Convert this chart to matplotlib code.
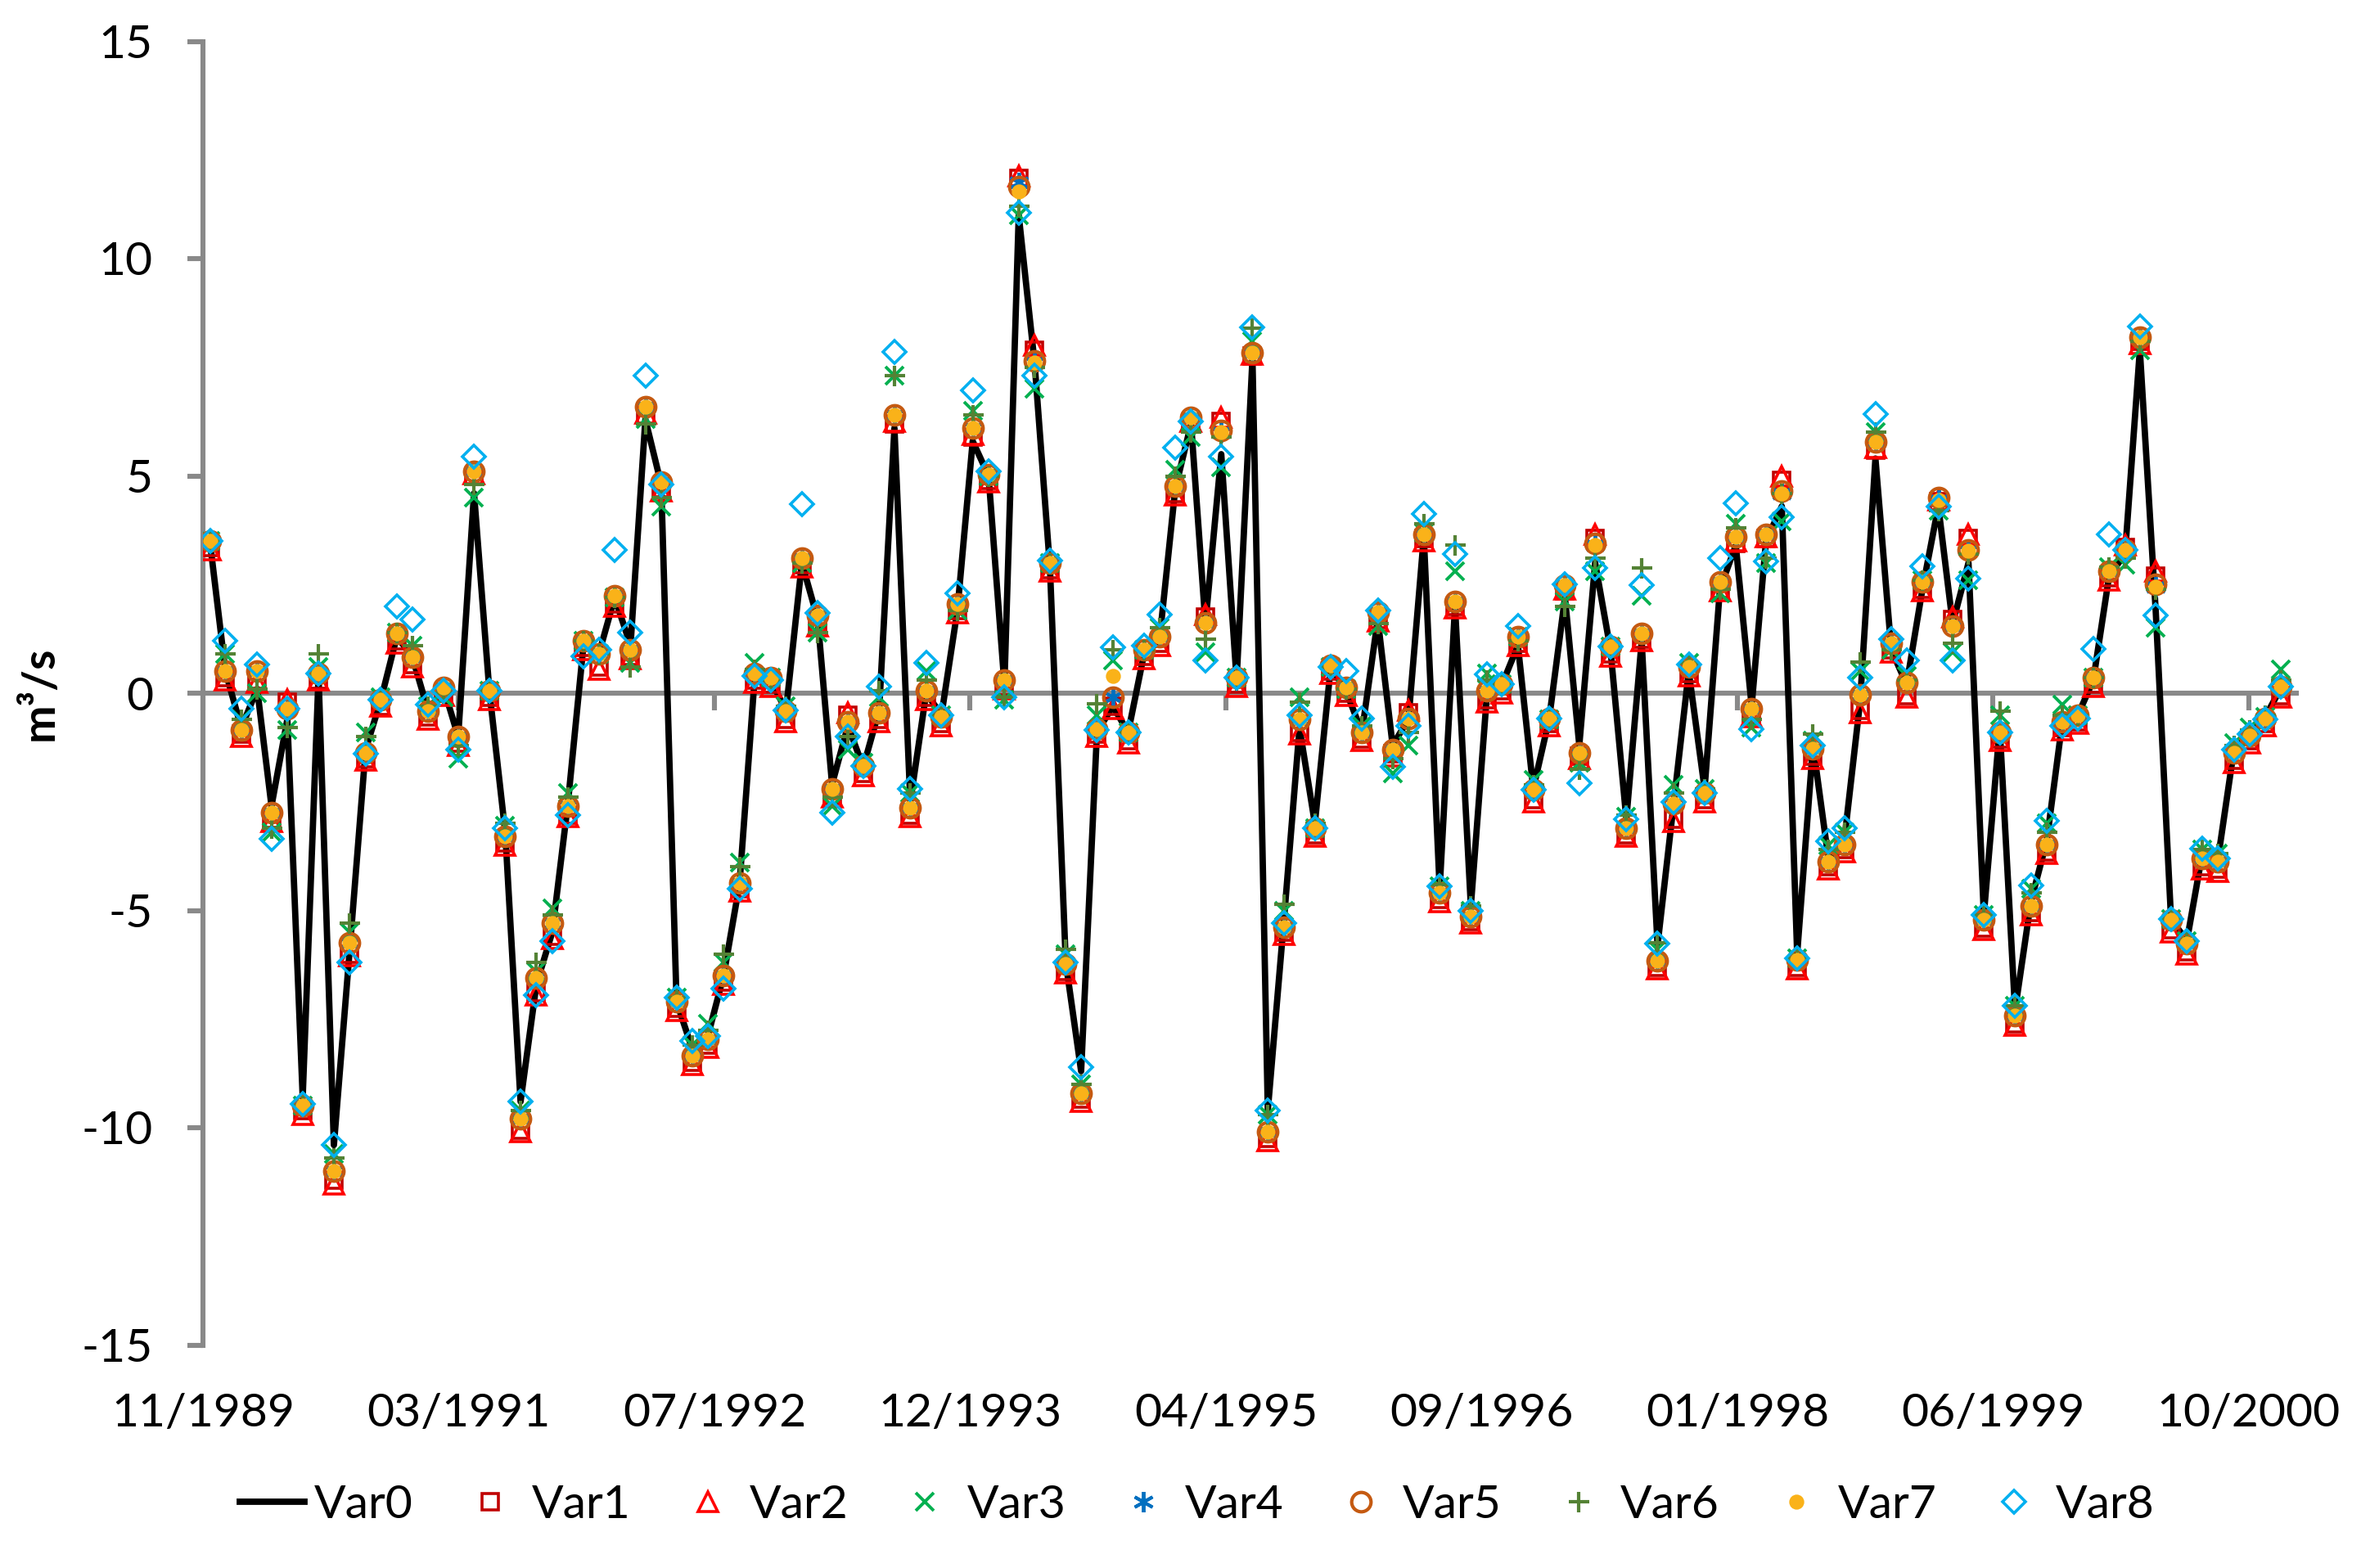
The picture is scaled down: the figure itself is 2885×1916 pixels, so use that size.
import numpy as np
import pandas as pd
import matplotlib
matplotlib.use("Agg")
import matplotlib.pyplot as plt

plt.rcParams['font.family'] = ['Lato', 'DejaVu Sans']
plt.rcParams['axes.unicode_minus'] = False

# ---------------- data ----------------
first_month = '1989-11-01'
n_months = 134
tick_labels = ["11/1989", "03/1991", "07/1992", "12/1993", "04/1995",
               "09/1996", "01/1998", "06/1999", "10/2000"]
series_names = ["Var0", "Var1", "Var2", "Var3", "Var4", "Var5", "Var6", "Var7", "Var8"]

var0 = [3.45, 0.5, -0.8, 0.1, -2.6, -0.6, -9.3, 0.4, -10.4, -5.9, -1.3, -0.15,
        1.3, 0.85, -0.4, 0.1, -1.0, 4.6, 0.05, -3.2, -9.4, -6.7, -5.5, -2.6,
        1.1, 0.9, 2.2, 1.1, 6.3, 4.8, -7.1, -8.2, -7.9, -6.5, -4.4, 0.4,
        0.3, -0.4, 3.0, 1.7, -2.1, -0.75, -1.7, -0.4, 6.1, -2.5, 0.0, -0.5,
        1.9, 5.8, 5.0, 0.2, 11.0, 7.6, 2.9, -6.2, -8.7, -0.9, -0.3, -0.9,
        0.9, 1.2, 4.7, 6.2, 1.6, 5.5, 0.3, 7.7, -9.6, -5.3, -0.8, -3.0,
        0.6, 0.05, -0.9, 1.7, -1.2, -0.6, 3.6, -4.5, 2.0, -4.9, -0.1, 0.2,
        1.1, -2.2, -0.6, 2.2, -1.2, 3.0, 1.0, -2.9, 1.2, -5.8, -2.6, 0.5,
        -2.2, 2.4, 3.4, -0.3, 3.5, 4.3, -6.0, -1.2, -3.8, -3.4, -0.2, 5.4,
        1.0, 0.2, 2.4, 4.3, 1.6, 3.0, -5.1, -0.8, -7.3, -4.8, -3.4, -0.7,
        -0.5, 0.3, 2.7, 3.2, 7.9, 1.9, -5.2, -5.7, -3.7, -3.8, -1.3, -0.95,
        -0.55, 0.1]

var1 = [3.35, 0.35, -0.95, 0.3, -2.9, -0.2, -9.6, 0.3, -11.2, -6.0, -1.5, -0.3,
        1.2, 0.65, -0.55, 0.0, -1.15, 5.0, -0.1, -3.45, -10.05, -6.9, -5.6, -2.8,
        1.05, 0.6, 2.05, 0.85, 6.4, 4.7, -7.25, -8.5, -8.1, -6.65, -4.5, 0.3,
        0.2, -0.6, 2.95, 1.6, -2.35, -0.5, -1.85, -0.6, 6.2, -2.8, -0.1, -0.7,
        1.9, 5.9, 4.9, 0.15, 11.85, 7.9, 2.85, -6.4, -9.35, -0.95, -0.3, -1.1,
        0.85, 1.15, 4.6, 6.2, 1.75, 6.25, 0.2, 7.75, -10.25, -5.5, -0.9, -3.25,
        0.5, 0.0, -1.05, 1.7, -1.4, -0.45, 3.55, -4.75, 2.0, -5.25, -0.15, 0.05,
        1.15, -2.45, -0.7, 2.35, -1.45, 3.55, 0.9, -3.25, 1.25, -6.3, -2.9, 0.45,
        -2.45, 2.4, 3.45, -0.5, 3.55, 4.9, -6.3, -1.45, -4.0, -3.6, -0.4, 5.6,
        1.0, -0.05, 2.4, 4.4, 1.7, 3.55, -5.4, -1.05, -7.6, -5.05, -3.65, -0.8,
        -0.65, 0.2, 2.65, 3.35, 8.1, 2.7, -5.45, -5.95, -4.0, -4.05, -1.55, -1.1,
        -0.7, -0.05]

var2 = [3.3, 0.3, -1.0, 0.25, -2.95, -0.15, -9.7, 0.3, -11.3, -6.05, -1.55, -0.3,
        1.15, 0.6, -0.6, -0.05, -1.2, 5.05, -0.15, -3.5, -10.1, -6.95, -5.65, -2.85,
        1.0, 0.55, 2.0, 0.8, 6.45, 4.65, -7.3, -8.55, -8.15, -6.7, -4.55, 0.25,
        0.15, -0.65, 2.9, 1.55, -2.4, -0.45, -1.9, -0.65, 6.25, -2.85, -0.15, -0.75,
        1.85, 5.95, 4.85, 0.1, 11.9, 8.0, 2.8, -6.45, -9.4, -1.0, -0.35, -1.15,
        0.8, 1.1, 4.55, 6.25, 1.8, 6.35, 0.15, 7.8, -10.3, -5.55, -0.95, -3.3,
        0.45, -0.05, -1.1, 1.65, -1.45, -0.4, 3.5, -4.8, 1.95, -5.3, -0.2, 0.0,
        1.1, -2.5, -0.75, 2.4, -1.5, 3.65, 0.85, -3.3, 1.2, -6.35, -2.95, 0.4,
        -2.5, 2.35, 3.5, -0.55, 3.6, 5.0, -6.35, -1.5, -4.05, -3.65, -0.45, 5.65,
        0.95, -0.1, 2.35, 4.45, 1.75, 3.65, -5.45, -1.1, -7.65, -5.1, -3.7, -0.85,
        -0.7, 0.15, 2.6, 3.4, 8.05, 2.8, -5.5, -6.0, -4.05, -4.1, -1.6, -1.15,
        -0.75, -0.1]

var3 = [3.5, 0.9, -0.6, 0.0, -3.2, -0.85, -9.5, 0.6, -10.6, -5.5, -0.9, -0.1,
        1.4, 1.1, -0.3, -0.1, -1.5, 4.5, 0.05, -3.05, -9.6, -6.4, -4.95, -2.3,
        1.2, 0.9, 2.2, 0.7, 6.3, 4.3, -7.0, -8.1, -7.6, -6.2, -3.9, 0.7,
        0.35, -0.3, 3.0, 1.4, -2.6, -1.3, -1.6, -0.1, 7.3, -2.3, 0.5, -0.5,
        1.9, 6.5, 5.0, -0.15, 11.0, 7.0, 3.0, -6.0, -9.0, -0.5, 0.75, -0.9,
        1.0, 1.5, 5.15, 5.9, 0.95, 5.2, 0.36, 8.1, -9.7, -5.0, -0.1, -3.1,
        0.6, 0.1, -0.75, 1.55, -1.85, -1.2, 3.7, -4.45, 2.8, -5.0, 0.45, 0.2,
        1.3, -2.0, -0.6, 2.1, -1.6, 2.8, 1.07, -2.85, 2.25, -5.9, -2.1, 0.7,
        -2.2, 2.3, 3.9, -0.8, 3.0, 3.95, -6.1, -1.1, -3.5, -3.2, 0.5, 6.0,
        1.0, 0.4, 2.6, 4.2, 0.95, 2.6, -5.1, -0.5, -7.2, -4.5, -3.0, -0.27,
        -0.5, 0.36, 2.9, 2.95, 7.9, 1.5, -5.2, -5.7, -3.6, -3.7, -1.15, -0.8,
        -0.55, 0.55]

var4 = [3.5, 0.5, -0.85, 0.5, -2.75, -0.35, -9.5, 0.45, -11.0, -5.75, -1.37, -0.16,
        1.38, 0.83, -0.42, 0.13, -1.0, 5.1, 0.05, -3.3, -9.8, -6.56, -5.3, -2.6,
        1.2, 0.9, 2.25, 1.0, 6.6, 4.85, -7.1, -8.35, -7.97, -6.5, -4.36, 0.45,
        0.35, -0.42, 3.1, 1.78, -2.2, -0.65, -1.68, -0.45, 6.4, -2.63, 0.05, -0.55,
        2.05, 6.1, 5.03, 0.3, 11.75, 7.6, 3.0, -6.24, -9.2, -0.82, -0.1, -0.9,
        1.0, 1.3, 4.76, 6.35, 1.62, 6.0, 0.36, 7.83, -10.1, -5.38, -0.6, -3.1,
        0.64, 0.13, -0.9, 1.86, -1.3, -0.58, 3.66, -4.59, 2.1, -5.14, 0.05, 0.2,
        1.3, -2.23, -0.58, 2.48, -1.37, 3.4, 1.07, -3.1, 1.38, -6.16, -2.55, 0.6,
        -2.3, 2.56, 3.6, -0.35, 3.66, 4.6, -6.13, -1.29, -3.88, -3.49, -0.03, 5.79,
        1.15, 0.25, 2.56, 4.45, 1.54, 3.27, -5.22, -0.9, -7.42, -4.9, -3.49, -0.66,
        -0.5, 0.36, 2.8, 3.3, 8.2, 2.45, -5.22, -5.77, -3.8, -3.88, -1.37, -0.97,
        -0.58, 0.15]

var5 = [3.5, 0.5, -0.85, 0.5, -2.75, -0.35, -9.5, 0.45, -11.0, -5.75, -1.37, -0.16,
        1.38, 0.83, -0.42, 0.13, -1.0, 5.1, 0.05, -3.3, -9.8, -6.56, -5.3, -2.6,
        1.2, 0.9, 2.25, 1.0, 6.6, 4.85, -7.1, -8.35, -7.97, -6.5, -4.36, 0.45,
        0.35, -0.42, 3.1, 1.78, -2.2, -0.65, -1.68, -0.45, 6.4, -2.63, 0.05, -0.55,
        2.05, 6.1, 5.03, 0.3, 11.65, 7.65, 3.0, -6.24, -9.2, -0.82, -0.1, -0.9,
        1.0, 1.3, 4.76, 6.35, 1.62, 6.05, 0.36, 7.83, -10.1, -5.38, -0.6, -3.1,
        0.64, 0.13, -0.9, 1.86, -1.3, -0.58, 3.66, -4.59, 2.1, -5.14, 0.05, 0.2,
        1.3, -2.23, -0.58, 2.48, -1.37, 3.45, 1.07, -3.1, 1.38, -6.16, -2.55, 0.6,
        -2.3, 2.56, 3.6, -0.35, 3.66, 4.65, -6.13, -1.29, -3.88, -3.49, -0.03, 5.79,
        1.15, 0.25, 2.56, 4.5, 1.54, 3.3, -5.22, -0.9, -7.42, -4.9, -3.49, -0.66,
        -0.5, 0.36, 2.8, 3.3, 8.2, 2.5, -5.22, -5.77, -3.8, -3.88, -1.37, -0.97,
        -0.58, 0.15]

var6 = [3.5, 0.9, -0.6, 0.1, -3.1, -0.8, -9.5, 0.9, -10.7, -5.3, -1.0, -0.1,
        1.4, 1.1, -0.3, 0.0, -1.2, 4.8, 0.05, -3.0, -9.6, -6.2, -5.1, -2.4,
        1.2, 0.9, 2.2, 0.6, 6.2, 4.5, -7.0, -8.1, -7.75, -6.0, -4.0, 0.55,
        0.3, -0.3, 3.0, 1.4, -2.4, -1.0, -1.6, 0.05, 7.3, -2.3, 0.3, -0.5,
        1.9, 6.4, 5.0, -0.1, 11.2, 7.5, 3.0, -5.9, -9.0, -0.25, 1.0, -0.9,
        1.0, 1.5, 5.0, 6.0, 1.25, 5.9, 0.3, 8.4, -9.7, -4.85, -0.2, -3.0,
        0.6, 0.1, -0.75, 1.6, -1.5, -0.9, 3.9, -4.4, 3.4, -4.9, 0.3, 0.2,
        1.2, -2.1, -0.6, 2.0, -1.76, 3.1, 1.07, -2.8, 2.88, -5.75, -2.3, 0.7,
        -2.2, 2.4, 3.8, -0.6, 3.1, 4.6, -6.1, -0.94, -3.6, -3.2, 0.72, 6.0,
        1.0, 0.3, 2.6, 4.2, 1.15, 3.2, -5.1, -0.42, -7.2, -4.6, -3.2, -0.5,
        -0.5, 0.36, 2.9, 3.1, 8.1, 2.4, -5.2, -5.7, -3.6, -3.7, -1.2, -0.85,
        -0.5, 0.3]

var7 = [3.5, 0.5, -0.85, 0.5, -2.75, -0.35, -9.5, 0.45, -11.0, -5.75, -1.37, -0.16,
        1.38, 0.83, -0.42, 0.13, -1.0, 5.1, 0.05, -3.3, -9.8, -6.56, -5.3, -2.6,
        1.2, 0.9, 2.25, 1.0, 6.6, 4.85, -7.1, -8.35, -7.97, -6.5, -4.36, 0.45,
        0.35, -0.42, 3.1, 1.78, -2.2, -0.65, -1.68, -0.45, 6.4, -2.63, 0.05, -0.55,
        2.05, 6.1, 5.03, 0.3, 11.55, 7.6, 3.0, -6.24, -9.2, -0.82, 0.4, -0.9,
        1.0, 1.3, 4.76, 6.35, 1.62, 6.0, 0.36, 7.83, -10.1, -5.38, -0.6, -3.1,
        0.64, 0.13, -0.9, 1.86, -1.3, -0.58, 3.66, -4.59, 2.1, -5.14, 0.05, 0.2,
        1.3, -2.23, -0.58, 2.48, -1.37, 3.4, 1.07, -3.1, 1.38, -6.16, -2.55, 0.6,
        -2.3, 2.56, 3.6, -0.35, 3.66, 4.6, -6.13, -1.29, -3.88, -3.49, -0.03, 5.79,
        1.15, 0.25, 2.56, 4.45, 1.54, 3.27, -5.22, -0.9, -7.42, -4.9, -3.49, -0.66,
        -0.5, 0.36, 2.8, 3.3, 8.2, 2.45, -5.22, -5.77, -3.8, -3.88, -1.37, -0.97,
        -0.58, 0.15]

var8 = [3.5, 1.2, -0.35, 0.65, -3.35, -0.35, -9.45, 0.45, -10.4, -6.2, -1.4, -0.16,
        2.0, 1.7, -0.27, 0.05, -1.3, 5.45, 0.05, -3.1, -9.4, -6.95, -5.7, -2.8,
        0.85, 1.0, 3.3, 1.4, 7.3, 4.8, -7.0, -8.0, -7.9, -6.8, -4.5, 0.4,
        0.3, -0.4, 4.35, 1.85, -2.75, -1.0, -1.68, 0.15, 7.85, -2.2, 0.7, -0.5,
        2.3, 6.97, 5.1, -0.1, 11.05, 7.3, 3.05, -6.2, -8.6, -0.85, 1.05, -0.9,
        1.1, 1.8, 5.65, 6.25, 0.75, 5.45, 0.36, 8.42, -9.6, -5.3, -0.5, -3.1,
        0.6, 0.5, -0.58, 1.9, -1.7, -0.75, 4.13, -4.45, 3.2, -5.0, 0.44, 0.2,
        1.54, -2.23, -0.58, 2.5, -2.07, 2.88, 1.07, -2.9, 2.48, -5.77, -2.5, 0.65,
        -2.3, 3.1, 4.37, -0.82, 3.03, 4.05, -6.1, -1.2, -3.4, -3.1, 0.36, 6.42,
        1.25, 0.75, 2.92, 4.3, 0.75, 2.64, -5.1, -0.9, -7.2, -4.43, -2.94, -0.75,
        -0.58, 1.02, 3.66, 3.3, 8.43, 1.78, -5.2, -5.7, -3.57, -3.8, -1.3, -0.95,
        -0.6, 0.15]

# ---------------- x positions: monthly values on a day-based axis ----------------
axis_start = pd.Timestamp(first_month)
dates = pd.date_range(first_month, periods=n_months, freq='MS') + pd.Timedelta(days=14)
x = np.asarray((dates - axis_start).days, dtype=float)
tick_step_days = 500
tick_pos = np.arange(len(tick_labels)) * tick_step_days

# ---------------- figure ----------------
W, H, DPI = 2885, 1916, 200
fig = plt.figure(figsize=(W / DPI, H / DPI), dpi=DPI)
ax = fig.add_axes([248 / W, 1 - 1643.5 / H, (2806 - 248) / W, (1643.5 - 50.5) / H])

axis_gray = '#898989'
fs = 20.5

ax.plot(x, var0, color='black', lw=2.8, zorder=3, label=series_names[0])

marker_styles = [
    (var1, dict(marker='s', ms=7.0, mfc='none', mec='#C00000', mew=1.3)),
    (var2, dict(marker='^', ms=8.5, mfc='none', mec='#FF0000', mew=1.3)),
    (var3, dict(marker='x', ms=8.0, mec='#00B050', mew=1.4)),
    (var4, dict(marker=(6, 2, 0), ms=9.0, mec='#0070C0', mew=1.4)),
    (var5, dict(marker='o', ms=8.5, mfc='none', mec='#C55A11', mew=1.5)),
    (var6, dict(marker='+', ms=9.0, mec='#548235', mew=1.5)),
    (var7, dict(marker='o', ms=6.0, mfc='#FAB219', mec='#FAB219', mew=0.6)),
    (var8, dict(marker='D', ms=7.0, mfc='none', mec='#00B0F0', mew=1.3)),
]
for k, (vals, st) in enumerate(marker_styles):
    ax.plot(x, vals, linestyle='none', zorder=4 + k, label=series_names[k + 1], **st)

ax.set_ylim(-15, 15)
ax.set_yticks(np.arange(-15, 16, 5))
ax.set_xlim(0, 4093)

for s in ['top', 'right']:
    ax.spines[s].set_visible(False)
ax.spines['left'].set_color(axis_gray)
ax.spines['left'].set_linewidth(2.2)
ax.spines['bottom'].set_position(('data', 0))
ax.spines['bottom'].set_color(axis_gray)
ax.spines['bottom'].set_linewidth(2.2)

ax.set_xticks(tick_pos)
ax.tick_params(axis='x', direction='out', length=7.5, width=2.2, color=axis_gray,
               labelbottom=False)
ax.tick_params(axis='y', direction='out', length=7, width=2.2, color=axis_gray,
               labelsize=fs, pad=15, labelcolor='black')

# tick labels at the bottom of the plot area
ax2 = ax.twiny()
ax2.set_xlim(ax.get_xlim())
ax2.set_xticks(tick_pos, tick_labels)
ax2.xaxis.set_ticks_position('bottom')
ax2.xaxis.set_label_position('bottom')
ax2.tick_params(axis='x', length=0, labelsize=fs, pad=21, labeltop=False,
                labelbottom=True, top=False, bottom=True)
for s in ax2.spines.values():
    s.set_visible(False)

ax.set_ylabel('m³/s', fontsize=20, fontweight='bold')
ax.yaxis.set_label_coords(-0.068, 0.5)

handles, labels = ax.get_legend_handles_labels()
fig.legend(handles, labels, loc='center', bbox_to_anchor=(0.507, 0.040), ncol=9,
           frameon=False, fontsize=fs, handlelength=1.4, handletextpad=0.2,
           columnspacing=0.95, borderaxespad=0)

fig.savefig('out.png', dpi=DPI)
